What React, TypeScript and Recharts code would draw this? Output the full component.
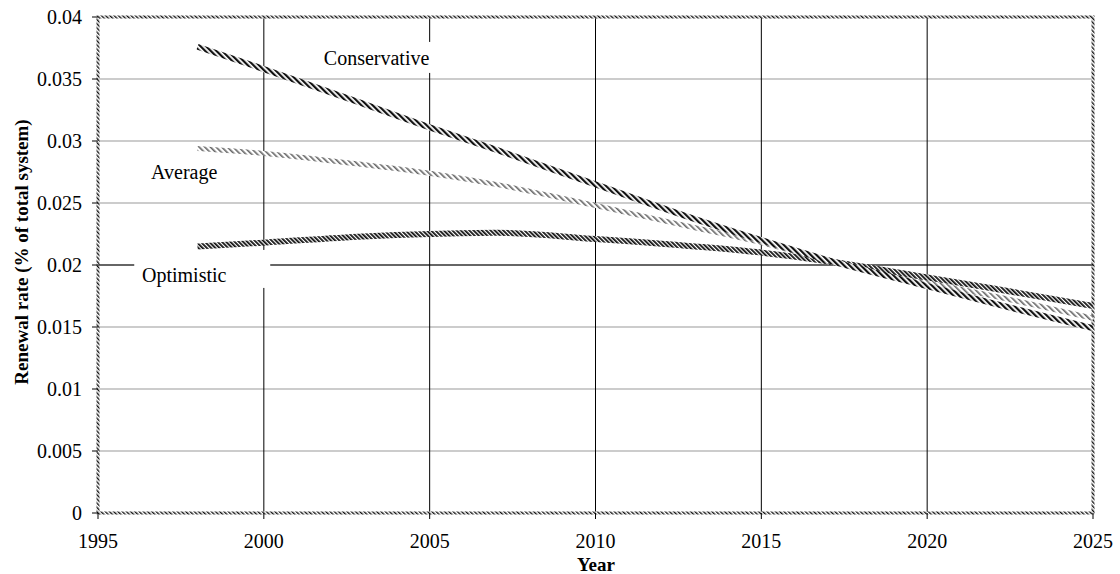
import { CartesianGrid, Line, LineChart, ReferenceArea, ReferenceDot, ReferenceLine, XAxis, YAxis } from 'recharts';

const years = [1998, 2000, 2003, 2005, 2007, 2010, 2013, 2015, 2017, 2020, 2022, 2025];
const conservative = [0.0376, 0.0358, 0.033, 0.0311, 0.0293, 0.0265, 0.0237, 0.022, 0.0204, 0.0183, 0.0169, 0.0149];
const average = [0.0294, 0.029, 0.0281, 0.0274, 0.0265, 0.0248, 0.023, 0.0218, 0.0204, 0.0186, 0.0175, 0.0157];
const optimistic = [0.0215, 0.0218, 0.0223, 0.0225, 0.0226, 0.0221, 0.0215, 0.021, 0.0203, 0.019, 0.0181, 0.0167];

const xTicks = [1995, 2000, 2005, 2010, 2015, 2020, 2025];
const yTicks = [0, 0.005, 0.01, 0.015, 0.02, 0.025, 0.03, 0.035, 0.04];

const seriesLabels = [
  { name: 'Conservative', x: 2003.4, y: 0.0367, box: [-60, 60, -16, 15] },
  { name: 'Average', x: 1997.6, y: 0.0275, box: [-40, 40, -15, 15] },
  { name: 'Optimistic', x: 1997.6, y: 0.0192, box: [-50, 86, -25, 13] },
];

const data = years.map((year, i) => ({
  year,
  conservative: conservative[i],
  average: average[i],
  optimistic: optimistic[i],
}));

const FONT = "'Liberation Serif', 'DejaVu Serif'";
const textStyle = { fontFamily: FONT, fontStyle: 'normal' };

function hatch(id: string, size: number, bar: number, color: string) {
  return (
    <pattern id={id} patternUnits="userSpaceOnUse" width={size} height={size} patternTransform="rotate(-45)">
      <rect x={0} y={0} width={size} height={size} fill="#fff" />
      <rect x={0} y={0} width={bar} height={size} fill={color} />
    </pattern>
  );
}

function seriesLabel(text: string, box: number[]) {
  return (props: { cx?: number; cy?: number }) => {
    const cx = props.cx ?? 0;
    const cy = props.cy ?? 0;
    const [l, r, t, b] = box;
    return (
      <g>
        <rect x={cx + l} y={cy + t} width={r - l} height={b - t} fill="#fff" />
        <text x={cx} y={cy} textAnchor="middle" dominantBaseline="central" style={textStyle} fontSize={20} fill="#000">
          {text}
        </text>
      </g>
    );
  };
}

export default function App() {
  return (
    <div style={{ position: 'absolute', left: 0, top: 0, background: '#fff', fontFamily: FONT }}>
      <LineChart
        width={1120}
        height={574}
        data={data}
        margin={{ top: 17, right: 27, left: 18, bottom: 21 }}
        style={textStyle}
      >
        <defs>
          {hatch('hatchBorder', 3, 1.4, '#111')}
          {hatch('hatchCons', 4, 2.2, '#111')}
          {hatch('hatchAvg', 4, 1.6, '#666')}
          {hatch('hatchOpt', 3, 1.8, '#111')}
        </defs>
        <CartesianGrid horizontal vertical={false} stroke="#999" strokeWidth={1.2} />
        <CartesianGrid horizontal={false} vertical stroke="#000" strokeWidth={1} />
        <ReferenceLine y={0.02} stroke="#000" strokeWidth={1} />
        <XAxis
          dataKey="year"
          type="number"
          domain={[1995, 2025]}
          ticks={xTicks}
          axisLine={false}
          tickLine={{ stroke: '#000' }}
          tickSize={6}
          tickMargin={15}
          height={40}
          tick={{ fill: '#000', fontSize: 20, fontFamily: FONT, style: textStyle }}
        />
        <YAxis
          type="number"
          domain={[0, 0.04]}
          ticks={yTicks}
          axisLine={false}
          tickLine={{ stroke: '#000' }}
          tickSize={6}
          tickMargin={10}
          width={80}
          tickFormatter={(v: number) => String(v)}
          tick={{ fill: '#000', fontSize: 20, fontFamily: FONT, style: textStyle }}
        />
        <ReferenceArea
          x1={1995}
          x2={2025}
          y1={0}
          y2={0.04}
          fill="none"
          stroke="url(#hatchBorder)"
          strokeWidth={3}
          ifOverflow="visible"
        />
        {seriesLabels.map((s) => (
          <ReferenceDot key={s.name} x={s.x} y={s.y} r={0} shape={seriesLabel(s.name, s.box)} />
        ))}
        <Line type="monotone" dataKey="average" stroke="url(#hatchAvg)" strokeWidth={5} dot={false} isAnimationActive={false} />
        <Line type="monotone" dataKey="optimistic" stroke="url(#hatchOpt)" strokeWidth={6} dot={false} isAnimationActive={false} />
        <Line type="monotone" dataKey="conservative" stroke="url(#hatchCons)" strokeWidth={6} dot={false} isAnimationActive={false} />
        <text x={596} y={564} textAnchor="middle" dominantBaseline="central" style={textStyle} fontSize={19} fontWeight="bold">
          Year
        </text>
        <text
          x={21}
          y={252}
          transform="rotate(-90, 21, 252)"
          textAnchor="middle"
          dominantBaseline="central"
          style={textStyle}
          fontSize={19}
          fontWeight="bold"
        >
          Renewal rate (% of total system)
        </text>
      </LineChart>
    </div>
  );
}
